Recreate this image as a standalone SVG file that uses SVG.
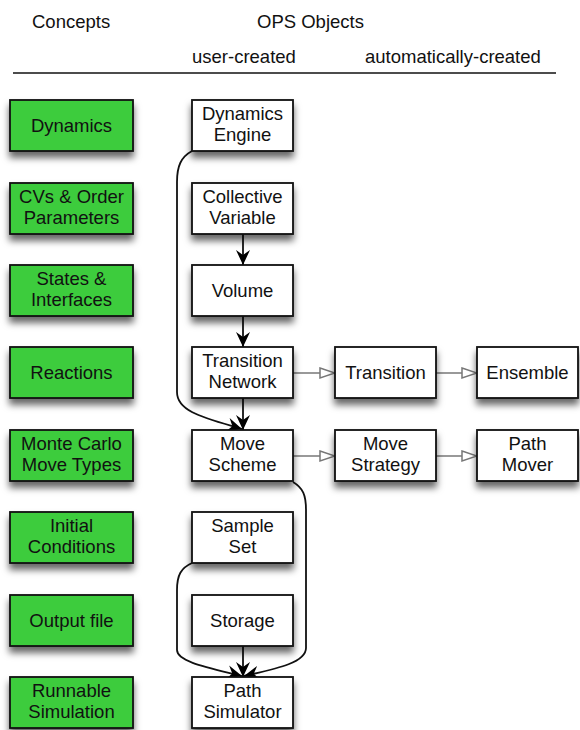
<svg xmlns="http://www.w3.org/2000/svg" width="580" height="730" viewBox="0 0 580 730">
<defs>
<filter id="sh" x="-20%" y="-20%" width="140%" height="170%">
<feDropShadow dx="0" dy="6" stdDeviation="3.5" flood-color="#000" flood-opacity="0.6"/>
</filter>
<marker id="ah" markerUnits="userSpaceOnUse" markerWidth="16" markerHeight="16" viewBox="0 0 16 16" refX="15" refY="8" orient="auto">
<path d="M0,1 L15,8 L0,15 L5,8 z" fill="#000"/>
</marker>
<marker id="hol" markerUnits="userSpaceOnUse" markerWidth="18" markerHeight="14" viewBox="0 0 18 14" refX="16" refY="7" orient="auto">
<path d="M1,2 L16,7 L1,12 z" fill="#fff" stroke="#777" stroke-width="1.5"/>
</marker>
</defs>
<style>
text{font-family:"Liberation Sans",Arial,sans-serif;font-size:18.5px;fill:#111;}
.c{text-anchor:middle;}
.g{fill:#3ccc3c;stroke:#111;stroke-width:1.8;filter:url(#sh);}
.w{fill:#fff;stroke:#111;stroke-width:1.8;filter:url(#sh);}
.e{fill:none;stroke:#111;stroke-width:1.8;}
.h{fill:none;stroke:#777;stroke-width:1.5;}
</style>
<g id="header">
<text x="32" y="28">Concepts</text>
<text x="257" y="28">OPS Objects</text>
<text x="192" y="63">user-created</text>
<text x="365" y="63">automatically-created</text>
<line x1="13" y1="73" x2="556" y2="73" stroke="#111" stroke-width="1.5"/>
</g>
<g id="connectors">
<path class="e" d="M192,151 C181,157 177,166 177,182 L177,392 C177,412 205,418 242,429" marker-end="url(#ah)"/>
<line class="e" x1="243" y1="234" x2="243" y2="265" marker-end="url(#ah)"/>
<line class="e" x1="243" y1="316" x2="243" y2="347" marker-end="url(#ah)"/>
<line class="e" x1="243" y1="398" x2="243" y2="430" marker-end="url(#ah)"/>
<line class="e" x1="243" y1="646" x2="243" y2="677" marker-end="url(#ah)"/>
<path class="e" d="M293,482 C303,488 306,495 306,510 L306,648 C306,662 280,668 244,676" marker-end="url(#ah)"/>
<path class="e" d="M192,563 C181,568 177,575 177,590 L177,650 C177,662 210,668 242,676" marker-end="url(#ah)"/>
<line class="h" x1="293" y1="373" x2="335" y2="373" marker-end="url(#hol)"/>
<line class="h" x1="436" y1="373" x2="477" y2="373" marker-end="url(#hol)"/>
<line class="h" x1="293" y1="456" x2="335" y2="456" marker-end="url(#hol)"/>
<line class="h" x1="436" y1="456" x2="477" y2="456" marker-end="url(#hol)"/>
</g>
<g id="c-dynamics"><rect class="g" x="10" y="100" width="123" height="51"/><text class="c" x="71.5" y="132">Dynamics</text></g>
<g id="c-cvs"><rect class="g" x="10" y="183" width="123" height="51"/><text class="c" x="71.5" y="203">CVs &amp; Order</text><text class="c" x="71.5" y="224">Parameters</text></g>
<g id="c-states"><rect class="g" x="10" y="265" width="123" height="51"/><text class="c" x="71.5" y="285">States &amp;</text><text class="c" x="71.5" y="306">Interfaces</text></g>
<g id="c-reactions"><rect class="g" x="10" y="347" width="123" height="51"/><text class="c" x="71.5" y="379">Reactions</text></g>
<g id="c-mc"><rect class="g" x="10" y="430" width="123" height="51"/><text class="c" x="71.5" y="450">Monte Carlo</text><text class="c" x="71.5" y="471">Move Types</text></g>
<g id="c-initial"><rect class="g" x="10" y="512" width="123" height="51"/><text class="c" x="71.5" y="532">Initial</text><text class="c" x="71.5" y="553">Conditions</text></g>
<g id="c-output"><rect class="g" x="10" y="595" width="123" height="51"/><text class="c" x="71.5" y="627">Output file</text></g>
<g id="c-runnable"><rect class="g" x="10" y="677" width="123" height="51"/><text class="c" x="71.5" y="697">Runnable</text><text class="c" x="71.5" y="718">Simulation</text></g>
<g id="dynamics-engine"><rect class="w" x="192" y="100" width="101" height="51"/><text class="c" x="242.5" y="120">Dynamics</text><text class="c" x="242.5" y="141">Engine</text></g>
<g id="collective-variable"><rect class="w" x="192" y="183" width="101" height="51"/><text class="c" x="242.5" y="203">Collective</text><text class="c" x="242.5" y="224">Variable</text></g>
<g id="volume"><rect class="w" x="192" y="265" width="101" height="51"/><text class="c" x="242.5" y="297">Volume</text></g>
<g id="transition-network"><rect class="w" x="192" y="347" width="101" height="51"/><text class="c" x="242.5" y="367">Transition</text><text class="c" x="242.5" y="388">Network</text></g>
<g id="move-scheme"><rect class="w" x="192" y="430" width="101" height="51"/><text class="c" x="242.5" y="450">Move</text><text class="c" x="242.5" y="471">Scheme</text></g>
<g id="sample-set"><rect class="w" x="192" y="512" width="101" height="51"/><text class="c" x="242.5" y="532">Sample</text><text class="c" x="242.5" y="553">Set</text></g>
<g id="storage"><rect class="w" x="192" y="595" width="101" height="51"/><text class="c" x="242.5" y="627">Storage</text></g>
<g id="path-simulator"><rect class="w" x="192" y="677" width="101" height="51"/><text class="c" x="242.5" y="697">Path</text><text class="c" x="242.5" y="718">Simulator</text></g>
<g id="transition"><rect class="w" x="335" y="347" width="101" height="51"/><text class="c" x="385.5" y="379">Transition</text></g>
<g id="ensemble"><rect class="w" x="477" y="347" width="101" height="51"/><text class="c" x="527.5" y="379">Ensemble</text></g>
<g id="move-strategy"><rect class="w" x="335" y="430" width="101" height="51"/><text class="c" x="385.5" y="450">Move</text><text class="c" x="385.5" y="471">Strategy</text></g>
<g id="path-mover"><rect class="w" x="477" y="430" width="101" height="51"/><text class="c" x="527.5" y="450">Path</text><text class="c" x="527.5" y="471">Mover</text></g>
</svg>
